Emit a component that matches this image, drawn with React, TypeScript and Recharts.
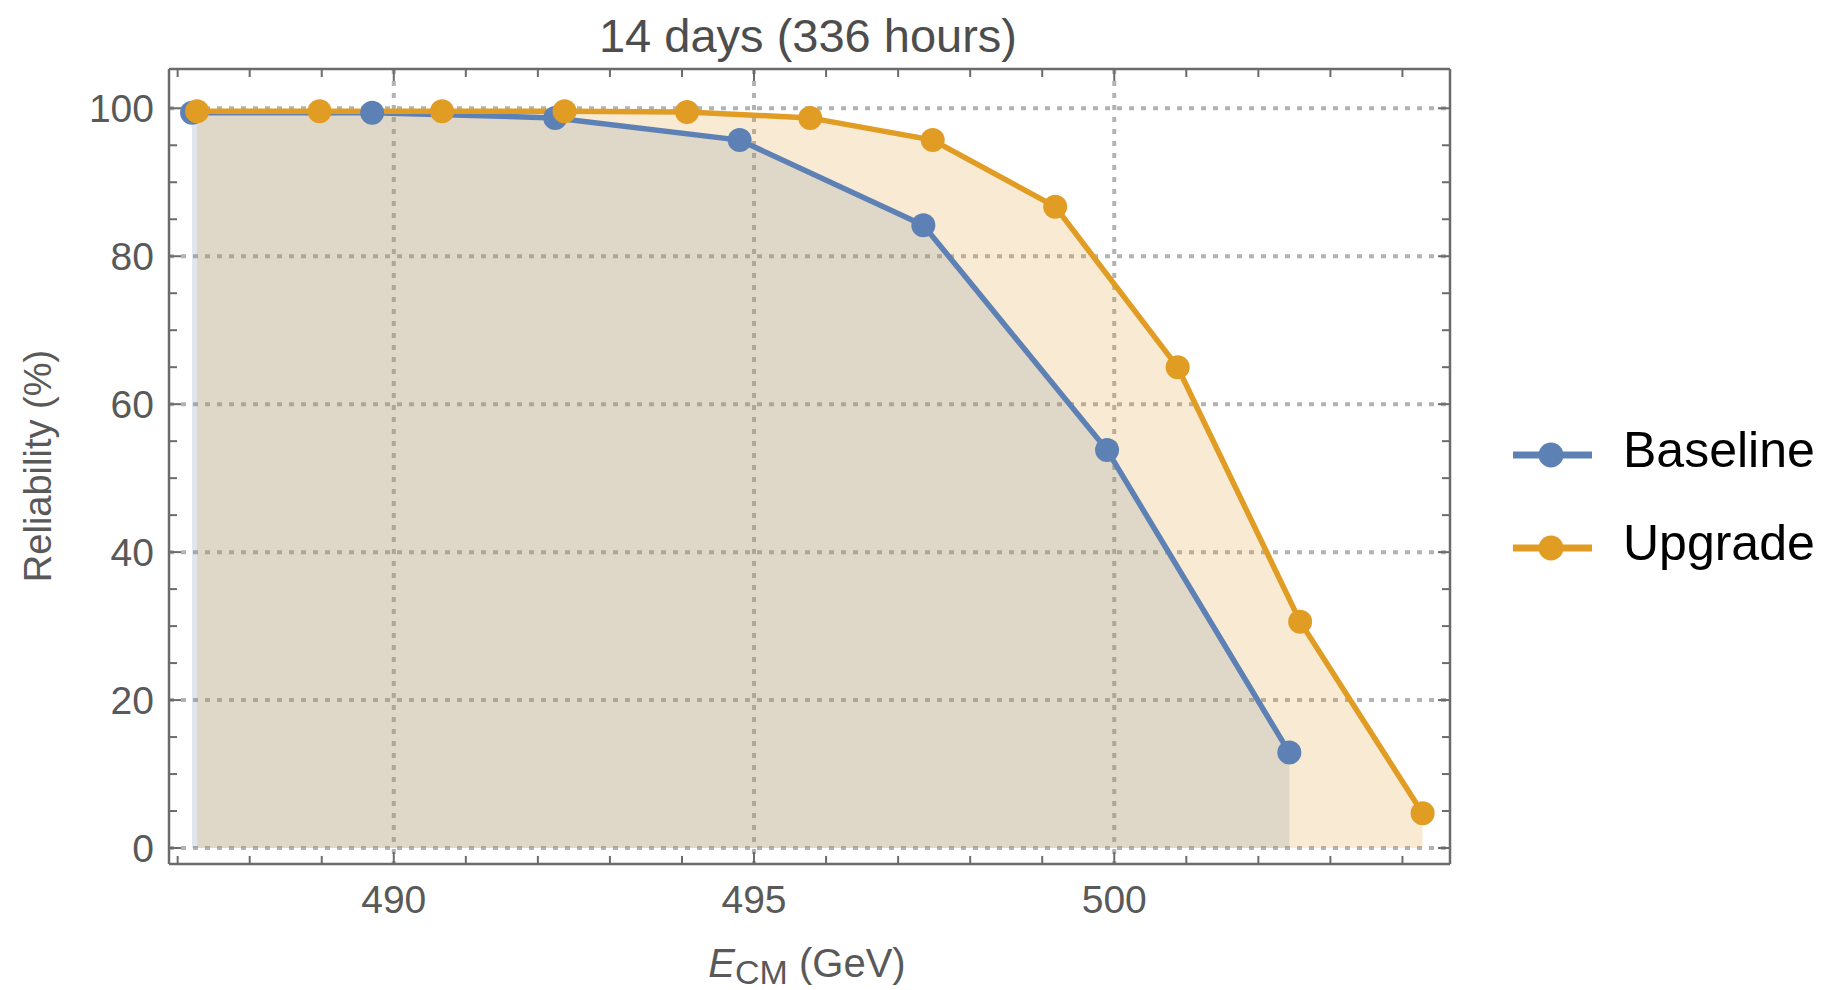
import { ComposedChart, Area, Line, XAxis, YAxis, CartesianGrid, Legend } from 'recharts';

// energies (GeV) and reliability (%)
const BASELINE_X = [487.2, 489.7, 492.24, 494.8, 497.35, 499.9, 502.43];
const BASELINE_Y = [99.4, 99.4, 98.7, 95.7, 84.2, 53.8, 12.9];
const UPGRADE_X = [487.27, 488.97, 490.67, 492.37, 494.07, 495.78, 497.48, 499.18, 500.88, 502.58, 504.28];
const UPGRADE_Y = [99.6, 99.6, 99.6, 99.6, 99.5, 98.7, 95.7, 86.7, 65.0, 30.6, 4.7];

const X_TICKS = [487, 488, 489, 490, 491, 492, 493, 494, 495, 496, 497, 498, 499, 500, 501, 502, 503, 504];
const X_LABELS = [490, 495, 500];
const Y_TICKS = [0, 5, 10, 15, 20, 25, 30, 35, 40, 45, 50, 55, 60, 65, 70, 75, 80, 85, 90, 95, 100];
const Y_LABELS = [0, 20, 40, 60, 80, 100];

const SERIES = [
  { key: 'baseline', name: 'Baseline', color: '#5e81b5' },
  { key: 'upgrade', name: 'Upgrade', color: '#e19c24' },
];

const FONT = '"Liberation Sans", Arial, Helvetica, sans-serif';
const FRAME = '#6b6b6b';
const TICK_TEXT = '#595959';
const X_DOMAIN: [number, number] = [486.88, 504.66];
const Y_DOMAIN: [number, number] = [-2.16, 105.31];

type Row = { x: number; baseline: number | null; upgrade: number | null };

const rows: Row[] = [
  ...BASELINE_X.map((x, i) => ({ x, baseline: BASELINE_Y[i], upgrade: null })),
  ...UPGRADE_X.map((x, i) => ({ x, baseline: null, upgrade: UPGRADE_Y[i] })),
].sort((a, b) => a.x - b.x);

// Mathematica-style frame ticks: pointing inward, labels only on the majors
function BottomTick({ x, y, payload }: any) {
  const v = payload.value;
  const major = X_LABELS.includes(v);
  return (
    <g>
      <line x1={x} y1={y} x2={x} y2={y - (major ? 12 : 8)} stroke={FRAME} strokeWidth={2} />
      {major && (
        <text x={x} y={y + 49} textAnchor="middle" fill={TICK_TEXT} fontSize={39} fontFamily={FONT}>
          {v}
        </text>
      )}
    </g>
  );
}

function TopTick({ x, y, payload }: any) {
  const major = X_LABELS.includes(payload.value);
  return <line x1={x} y1={y} x2={x} y2={y + (major ? 12 : 8)} stroke={FRAME} strokeWidth={2} />;
}

function LeftTick({ x, y, payload }: any) {
  const v = payload.value;
  const major = Y_LABELS.includes(v);
  return (
    <g>
      <line x1={x} y1={y} x2={x + (major ? 12 : 8)} y2={y} stroke={FRAME} strokeWidth={2} />
      {major && (
        <text x={x - 15} y={y + 14} textAnchor="end" fill={TICK_TEXT} fontSize={39} fontFamily={FONT}>
          {v}
        </text>
      )}
    </g>
  );
}

function RightTick({ x, y, payload }: any) {
  const major = Y_LABELS.includes(payload.value);
  return <line x1={x} y1={y} x2={x - (major ? 12 : 8)} y2={y} stroke={FRAME} strokeWidth={2} />;
}

function LegendBox() {
  return (
    <svg width={326} height={200}>
      {SERIES.map((s, i) => {
        const cy = 45 + i * 93;
        return (
          <g key={s.key}>
            <line x1={13} y1={cy} x2={92} y2={cy} stroke={s.color} strokeWidth={7} />
            <circle cx={51} cy={cy} r={12.5} fill={s.color} />
            <text x={123} y={cy + 12} fontSize={50} fontFamily={FONT} fill="#000">
              {s.name}
            </text>
          </g>
        );
      })}
    </svg>
  );
}

export default function App() {
  return (
    <div style={{ position: 'absolute', left: 0, top: 0, width: 1826, height: 990, background: '#fff', fontFamily: FONT }}>
      <ComposedChart width={1826} height={990} data={rows} margin={{ top: 59, right: 366, bottom: 66, left: 69 }}>
        <CartesianGrid
          horizontalValues={Y_LABELS}
          verticalValues={X_LABELS}
          stroke="#b3b3b3"
          strokeWidth={4}
          strokeDasharray="5 7"
        />
        <XAxis
          dataKey="x"
          type="number"
          domain={X_DOMAIN}
          allowDataOverflow
          ticks={X_TICKS}
          interval={0}
          height={60}
          tickSize={0}
          tickMargin={0}
          tickLine={false}
          axisLine={{ stroke: FRAME, strokeWidth: 2.5 }}
          tick={BottomTick}
        />
        <XAxis
          xAxisId="top"
          orientation="top"
          dataKey="x"
          type="number"
          domain={X_DOMAIN}
          allowDataOverflow
          ticks={X_TICKS}
          interval={0}
          height={10}
          tickSize={0}
          tickMargin={0}
          tickLine={false}
          axisLine={{ stroke: FRAME, strokeWidth: 2.5 }}
          tick={TopTick}
        />
        <YAxis
          type="number"
          domain={Y_DOMAIN}
          allowDataOverflow
          ticks={Y_TICKS}
          interval={0}
          width={100}
          tickSize={0}
          tickMargin={0}
          tickLine={false}
          axisLine={{ stroke: FRAME, strokeWidth: 2.5 }}
          tick={LeftTick}
        />
        <YAxis
          yAxisId="right"
          orientation="right"
          type="number"
          domain={Y_DOMAIN}
          allowDataOverflow
          ticks={Y_TICKS}
          interval={0}
          width={10}
          tickSize={0}
          tickMargin={0}
          tickLine={false}
          axisLine={{ stroke: FRAME, strokeWidth: 2.5 }}
          tick={RightTick}
        />
        {SERIES.map((s) => (
          <Area
            key={`fill-${s.key}`}
            dataKey={s.key}
            type="linear"
            stroke="none"
            fill={s.color}
            fillOpacity={0.2}
            connectNulls
            dot={false}
            activeDot={false}
            legendType="none"
            isAnimationActive={false}
          />
        ))}
        {SERIES.map((s) => (
          <Line
            key={`line-${s.key}`}
            dataKey={s.key}
            type="linear"
            stroke={s.color}
            strokeWidth={5.5}
            connectNulls
            dot={false}
            activeDot={false}
            legendType="none"
            isAnimationActive={false}
          />
        ))}
        {SERIES.map((s) => (
          <Line
            key={`dots-${s.key}`}
            dataKey={s.key}
            type="linear"
            stroke="none"
            dot={{ r: 12, fill: s.color, stroke: 'none' }}
            activeDot={false}
            legendType="none"
            isAnimationActive={false}
          />
        ))}
        <Legend
          layout="vertical"
          align="center"
          verticalAlign="middle"
          wrapperStyle={{ left: 1500, top: 410, width: 326, height: 200 }}
          content={() => <LegendBox />}
        />
      </ComposedChart>
      <div
        style={{
          position: 'absolute',
          left: 408,
          top: 12,
          width: 800,
          textAlign: 'center',
          fontSize: 47,
          lineHeight: '47px',
          color: '#4d4d4d',
          whiteSpace: 'nowrap',
        }}
      >
        14 days (336 hours)
      </div>
      <div
        style={{
          position: 'absolute',
          left: 38,
          top: 466,
          transform: 'translate(-50%, -50%) rotate(-90deg)',
          fontSize: 38,
          lineHeight: '38px',
          color: TICK_TEXT,
          whiteSpace: 'nowrap',
        }}
      >
        Reliability (%)
      </div>
      <div
        style={{
          position: 'absolute',
          left: 407,
          top: 943,
          width: 800,
          textAlign: 'center',
          fontSize: 40,
          lineHeight: '40px',
          color: TICK_TEXT,
          whiteSpace: 'nowrap',
        }}
      >
        <i>E</i>
        <span style={{ fontSize: 34, verticalAlign: -7 }}>CM</span> (GeV)
      </div>
    </div>
  );
}
